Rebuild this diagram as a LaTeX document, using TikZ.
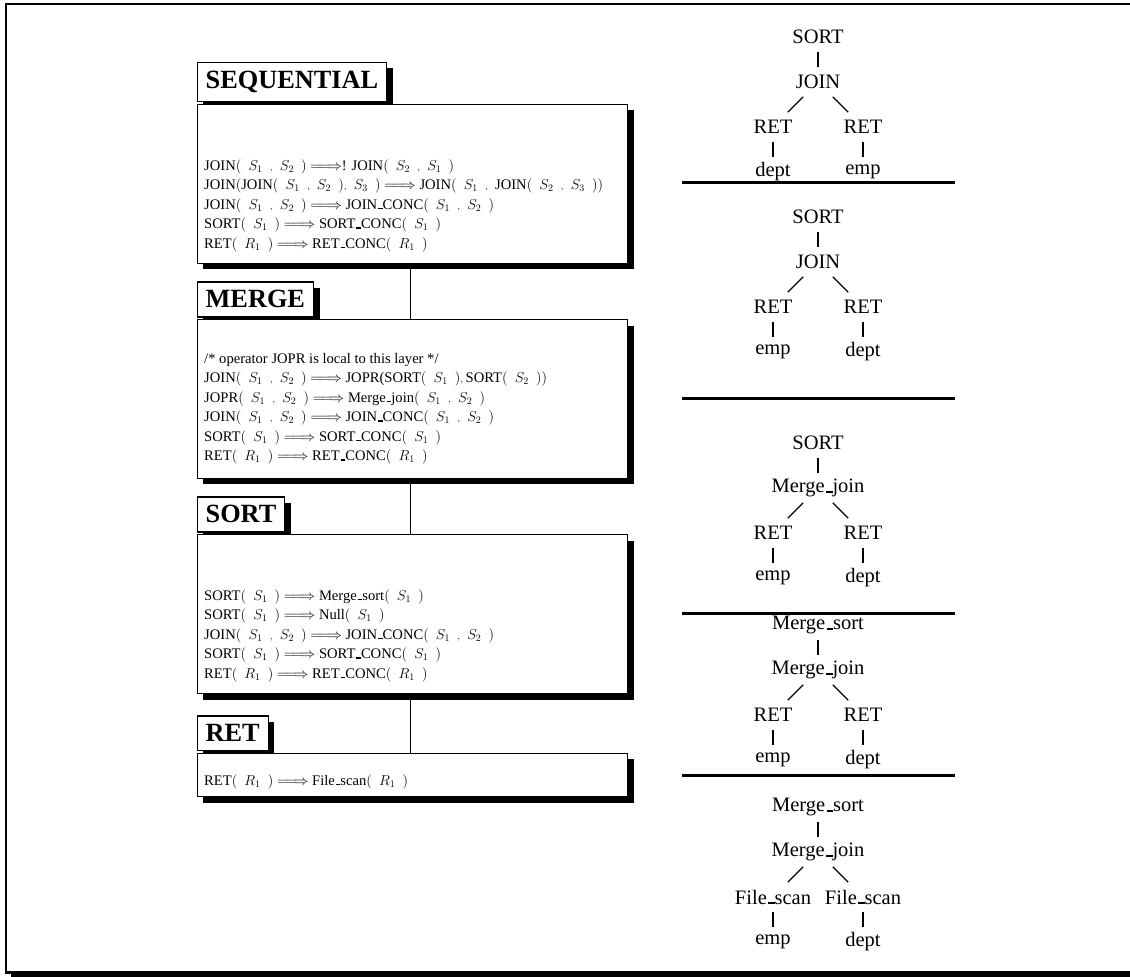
\documentclass[tikz,border=0pt]{standalone}
\usepackage{fontspec}
\setmainfont{Liberation Serif}
\usetikzlibrary{calc,shadows}

% short baseline underscore, as in the classic OT1 fonts
\newcommand\us{\leavevmode\kern.06em\vbox{\hrule height .09em width .32em}}
% gap inside argument lists, argument list, small comma, rewrite arrow
\newcommand\g{\mskip 9mu}
\newcommand\ag[1]{$(\g#1\g)$}
\newcommand\cm{\g{\scriptstyle,}\g}
\newcommand\rw{$=\!\Longrightarrow$}
\newcommand\rulefont{\fontsize{14.6pt}{19.5pt}\selectfont}

\tikzset{
  framebox/.style={draw, line width=1.3pt, fill=white,
    general shadow={fill=black, shadow xshift=6pt, shadow yshift=-6pt}},
  titlebox/.style={framebox, anchor=south west, inner xsep=8.5pt, inner ysep=8.6pt,
    font=\fontsize{26.3pt}{30pt}\selectfont\bfseries},
  bodybox/.style={framebox, anchor=north west, minimum width=430.5pt, inner sep=0pt},
  rln/.style={anchor=base west, inner sep=0pt, font=\rulefont},
  spine/.style={line width=1pt},
  tn/.style={inner sep=0pt, font=\fontsize{20.5pt}{24pt}\selectfont},
  te/.style={line width=1.3pt},
  sep/.style={line width=2.2pt},
}

% one plan tree: prefix, top y, root, join, left op, right op, left leaf, right leaf
\newcommand\plantree[8]{%
  \node[tn] (#1a) at (818,{#2}) {#3};
  \node[tn] (#1b) at (818,{#2+45}) {#4};
  \node[tn] (#1l) at (773,{#2+90}) {#5};
  \node[tn] (#1r) at (863,{#2+90}) {#6};
  \node[tn] (#1ll) at (773,{#2+135}) {#7};
  \node[tn] (#1rr) at (863,{#2+135}) {#8};
  \draw[te] ($(#1a)!.33!(#1b)$) -- ($(#1a)!.67!(#1b)$);
  \draw[te] ($(#1b)!.33!(#1l)$) -- ($(#1b)!.67!(#1l)$);
  \draw[te] ($(#1b)!.33!(#1r)$) -- ($(#1b)!.67!(#1r)$);
  \draw[te] ($(#1l)!.33!(#1ll)$) -- ($(#1l)!.67!(#1ll)$);
  \draw[te] ($(#1r)!.33!(#1rr)$) -- ($(#1r)!.67!(#1rr)$);
}

\begin{document}
\begin{tikzpicture}[x=1pt,y=-1pt]
\useasboundingbox (0,0) rectangle (1130,977);
\clip (0,0) rectangle (1130,977);

% outer frame with its shadow
\fill (11,9) rectangle (1150,990);
\draw[line width=2.5pt, fill=white] (6,4) rectangle (1140,972.5);

% layer titles
\node[titlebox] (seqtitle) at (196.5,102) {SEQUENTIAL};
\node[titlebox] (mergetitle) at (196.5,317.5) {MERGE};
\node[titlebox] (sorttitle) at (196.5,532.5) {SORT};
\node[titlebox] (rettitle) at (196.5,751) {RET};

% layer bodies
\node[bodybox, minimum height=159pt] (seqbody) at (196.5,103.5) {};
\node[bodybox, minimum height=158.5pt] (mergebody) at (196.5,319) {};
\node[bodybox, minimum height=159pt] (sortbody) at (196.5,534) {};
\node[bodybox, minimum height=43.5pt] (retbody) at (196.5,752.5) {};

% links between the layers
\coordinate (spinex) at (410,0);
\draw[spine] (seqbody.south -| spinex) -- (mergebody.north -| spinex);
\draw[spine] (mergebody.south -| spinex) -- (sortbody.north -| spinex);
\draw[spine] (sortbody.south -| spinex) -- (retbody.north -| spinex);

% rules of the SEQUENTIAL layer
\node[rln] (s1) at (204,170) {JOIN\ag{S_1\cm S_2} \rw! JOIN\ag{S_2\cm S_1}};
\node[rln] (s2) at (204,189.5) {JOIN$($JOIN\ag{S_1\cm S_2}${\scriptstyle,}\g S_3\g)$ \rw{} JOIN$(\g S_1\cm$JOIN\ag{S_2\cm S_3}$)$};
\node[rln] (s3) at (204,209) {JOIN\ag{S_1\cm S_2} \rw{} JOIN\us CONC\ag{S_1\cm S_2}};
\node[rln] (s4) at (204,228.5) {SORT\ag{S_1} \rw{} SORT\us CONC\ag{S_1}};
\node[rln] (s5) at (204,248) {RET\ag{R_1} \rw{} RET\us CONC\ag{R_1}};

% rules of the MERGE layer
\node[rln] (m1) at (204,363) {/* operator JOPR is local to this layer */};
\node[rln] (m2) at (204,382.5) {JOIN\ag{S_1\cm S_2} \rw{} JOPR(SORT\ag{S_1}${\scriptstyle,}\,$SORT\ag{S_2}$)$};
\node[rln] (m3) at (204,402) {JOPR\ag{S_1\cm S_2} \rw{} Merge\us join\ag{S_1\cm S_2}};
\node[rln] (m4) at (204,421.5) {JOIN\ag{S_1\cm S_2} \rw{} JOIN\us CONC\ag{S_1\cm S_2}};
\node[rln] (m5) at (204,441) {SORT\ag{S_1} \rw{} SORT\us CONC\ag{S_1}};
\node[rln] (m6) at (204,460.5) {RET\ag{R_1} \rw{} RET\us CONC\ag{R_1}};

% rules of the SORT layer
\node[rln] (o1) at (204,600) {SORT\ag{S_1} \rw{} Merge\us sort\ag{S_1}};
\node[rln] (o2) at (204,619.5) {SORT\ag{S_1} \rw{} Null\ag{S_1}};
\node[rln] (o3) at (204,639) {JOIN\ag{S_1\cm S_2} \rw{} JOIN\us CONC\ag{S_1\cm S_2}};
\node[rln] (o4) at (204,658.5) {SORT\ag{S_1} \rw{} SORT\us CONC\ag{S_1}};
\node[rln] (o5) at (204,678) {RET\ag{R_1} \rw{} RET\us CONC\ag{R_1}};

% rule of the RET layer
\node[rln] (r1) at (204,785) {RET\ag{R_1} \rw{} File\us scan\ag{R_1}};

% plan trees, one per step
\plantree{ta}{37}{SORT}{JOIN}{RET}{RET}{dept}{emp}
\draw[sep] (682,182.5) -- (955,182.5);
\plantree{tb}{217}{SORT}{JOIN}{RET}{RET}{emp}{dept}
\draw[sep] (682,398.5) -- (955,398.5);
\plantree{tc}{443}{SORT}{Merge\us join}{RET}{RET}{emp}{dept}
\draw[sep] (682,613.5) -- (955,613.5);
\plantree{td}{625}{Merge\us sort}{Merge\us join}{RET}{RET}{emp}{dept}
\draw[sep] (682,775.5) -- (955,775.5);
\plantree{tf}{807}{Merge\us sort}{Merge\us join}{File\us scan}{File\us scan}{emp}{dept}
\end{tikzpicture}
\end{document}
